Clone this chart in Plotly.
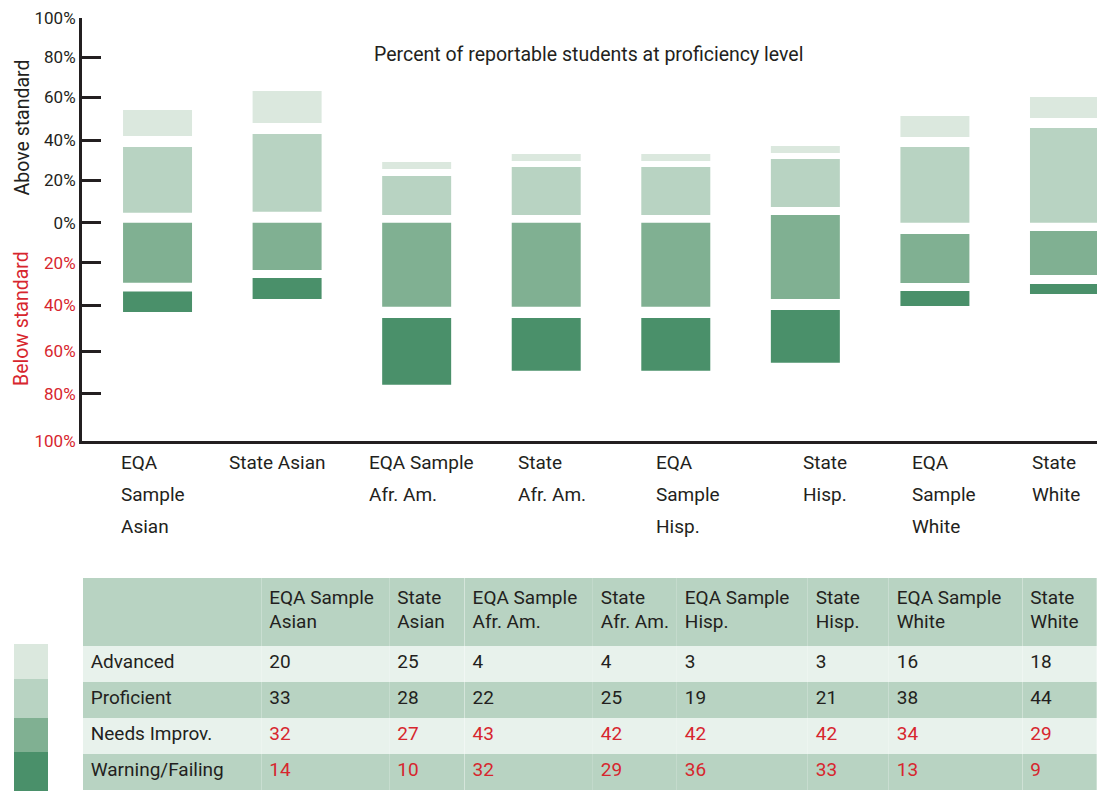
import plotly.graph_objects as go

# ---------------- data ----------------
groups = ["EQA Sample Asian", "State Asian", "EQA Sample Afr. Am.", "State Afr. Am.",
          "EQA Sample Hisp.", "State Hisp.", "EQA Sample White", "State White"]
axis_labels = ["EQA<br>Sample<br>Asian", "State Asian", "EQA Sample<br>Afr. Am.", "State<br>Afr. Am.",
               "EQA<br>Sample<br>Hisp.", "State<br>Hisp.", "EQA<br>Sample<br>White", "State<br>White"]
table_headers = ["EQA Sample<br>Asian", "State<br>Asian", "EQA Sample<br>Afr. Am.", "State<br>Afr. Am.",
                 "EQA Sample<br>Hisp.", "State<br>Hisp.", "EQA Sample<br>White", "State<br>White"]
levels = ["Advanced", "Proficient", "Needs Improv.", "Warning/Failing"]

advanced = [20, 25, 4, 4, 3, 3, 16, 18]
proficient = [33, 28, 22, 25, 19, 21, 38, 44]
needs_improv = [32, 27, 43, 42, 42, 42, 34, 29]
warning_failing = [14, 10, 32, 29, 36, 33, 13, 9]

# bar extents as drawn in the chart (axis units)
adv_top = [55.1, 64.4, 29.7, 33.6, 33.6, 37.5, 52.2, 61.5]
adv_bot = [42.4, 48.8, 26.3, 30.2, 30.2, 34.1, 41.9, 51.2]
prof_top = [37.0, 43.4, 22.8, 27.2, 27.2, 31.2, 37.0, 46.3]
prof_bot = [4.9, 5.4, 3.8, 3.8, 3.8, 7.7, 0.0, 0.0]
needs_top = [0.0, 0.0, 0.0, 0.0, 0.0, 3.8, -5.5, -4.1]
needs_bot = [-29.4, -23.1, -41.1, -41.1, -41.1, -37.3, -29.5, -25.6]
warn_top = [-33.6, -27.0, -46.6, -46.6, -46.6, -42.7, -33.4, -30.0]
warn_bot = [-43.7, -37.3, -79.3, -72.4, -72.4, -68.5, -40.8, -34.9]

tick_vals = [100, 80.9, 61.4, 40.3, 20.7, 0, -19.6, -40.4, -62.8, -83.7, -106.65]
tick_labels = ["100%", "80%", "60%", "40%", "20%", "0%", "20%", "40%", "60%", "80%", "100%"]
tick_is_below = [False] * 6 + [True] * 5

# ---------------- styles ----------------
W, H = 1102, 791
DARK = "#231f20"
RED = "#d7262e"
C_ADV = "#dbe8de"
C_PROF = "#b8d3c2"
C_NEEDS = "#80b092"
C_WARN = "#4a906a"
C_ROWLIGHT = "#e8f2ec"
FONT = "Roboto"


def px(x):
    return x / W


def py(y):
    return 1 - y / H


fig = go.Figure()
seg = [(adv_bot, adv_top, C_ADV, "Advanced"),
       (prof_bot, prof_top, C_PROF, "Proficient"),
       (needs_bot, needs_top, C_NEEDS, "Needs Improv."),
       (warn_bot, warn_top, C_WARN, "Warning/Failing")]
for lo, hi, col, name in seg:
    fig.add_trace(go.Bar(
        x=groups, y=[h - l for h, l in zip(hi, lo)], base=lo,
        marker=dict(color=col, line=dict(width=0)), width=0.5325,
        name=name, showlegend=False, hoverinfo="skip"))

ticktext = [f'<span style="color:{RED if b else DARK}">{t}</span>'
            for t, b in zip(tick_labels, tick_is_below)]

# table
value_cols = [[a, p, n, w] for a, p, n, w in zip(advanced, proficient, needs_improv, warning_failing)]
row_fill = [C_ROWLIGHT, C_PROF, C_ROWLIGHT, C_PROF]
fig.add_trace(go.Table(
    domain=dict(x=[px(82.7), px(1097)], y=[0, py(577.7)]),
    columnwidth=[178.6, 128, 75.4, 128.3, 84, 131, 81, 133.6, 74.4],
    header=dict(values=[""] + table_headers, fill_color=C_PROF, align="left",
                line=dict(color=C_PROF, width=0), height=68,
                font=dict(family=FONT, size=19, color=DARK)),
    cells=dict(values=[levels] + value_cols,
               fill_color=[row_fill] * 9, align="left",
               line=dict(width=0, color=C_PROF), height=36,
               font=dict(family=FONT, size=19,
                         color=[[DARK] * 4] + [[DARK, DARK, RED, RED]] * 8)),
))

annotations = [
    dict(text="Percent of reportable students at proficiency level", x=px(588), y=py(54),
         xref="paper", yref="paper", xanchor="center", yanchor="middle", showarrow=False,
         font=dict(family=FONT, size=19.5, color=DARK)),
    dict(text="Above standard", x=px(22), y=py(127.5), xref="paper", yref="paper", textangle=-90,
         xanchor="center", yanchor="middle", showarrow=False,
         font=dict(family=FONT, size=19.5, color=DARK)),
    dict(text="Below standard", x=px(22), y=py(319), xref="paper", yref="paper", textangle=-90,
         xanchor="center", yanchor="middle", showarrow=False,
         font=dict(family=FONT, size=19.5, color=RED)),
]
label_left = [119.3, 226.7, 367.3, 516, 654, 801, 910, 1030]
line_centers = [462.7, 494, 526]
for lab, lx in zip(axis_labels, label_left):
    for k, line in enumerate(lab.split("<br>")):
        annotations.append(dict(text=line, x=px(lx), y=py(line_centers[k]), xref="paper",
                                yref="paper", xanchor="left", yanchor="middle", showarrow=False,
                                font=dict(family=FONT, size=19, color=DARK)))

swatch_y = [644, 679, 718, 752, 791]
shapes = []
for i, col in enumerate([C_ADV, C_PROF, C_NEEDS, C_WARN]):
    shapes.append(dict(type="rect", xref="paper", yref="paper", x0=px(14), x1=px(48),
                       y0=py(swatch_y[i + 1]), y1=py(swatch_y[i]), fillcolor=col,
                       line=dict(width=0), layer="above"))

fig.update_layout(
    width=W, height=H, margin=dict(l=0, r=0, t=0, b=0, pad=0), autosize=False,
    paper_bgcolor="white", plot_bgcolor="white",
    barmode="overlay", showlegend=False,
    font=dict(family=FONT, color=DARK),
    xaxis=dict(domain=[px(82), px(1097)], type="category", categoryorder="array",
               categoryarray=groups, range=[-0.583, 7.251], showticklabels=False,
               showline=True, linecolor=DARK, linewidth=3, ticks="", showgrid=False,
               zeroline=False, fixedrange=True, automargin=False),
    yaxis=dict(domain=[py(440.7), py(18.3)], range=[-106.65, 100], tickmode="array",
               tickvals=tick_vals, ticktext=ticktext, ticks="inside", ticklen=19,
               tickwidth=3, tickcolor=DARK, showline=True, linecolor=DARK, linewidth=3,
               showgrid=False, zeroline=False, tickfont=dict(family=FONT, size=17),
               fixedrange=True, automargin=False),
    annotations=annotations, shapes=shapes,
)

fig.write_html("out.html", config={"displayModeBar": False},
               post_script="document.body.style.margin='0';document.body.style.overflow='hidden';")
